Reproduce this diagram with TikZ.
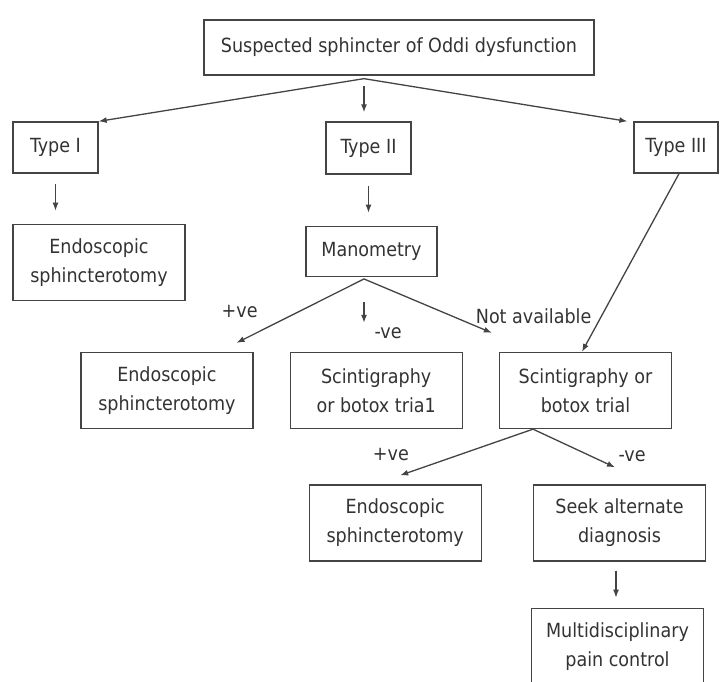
\documentclass[tikz,border=0pt]{standalone}
\usepackage{fontspec}
\setmainfont{DejaVu Sans Condensed}
\usepackage{tikz}
\usetikzlibrary{arrows.meta,positioning,calc}
\definecolor{inkgray}{HTML}{333333}
\definecolor{linegray}{HTML}{444444}
\tikzset{
  stage/.style={rectangle, draw=linegray, line width=1.3pt, fill=white, align=center,
                text=inkgray, font=\fontsize{19.5}{29}\selectfont, inner sep=0pt,
                minimum width=172pt, minimum height=76pt},
  arr/.style={-{Latex[length=8pt,width=6pt]}, line width=1.3pt, draw=linegray},
  lbl/.style={text=inkgray, font=\fontsize{19.5}{29}\selectfont, inner sep=0pt},
}

\begin{document}
\begin{tikzpicture}[x=1pt, y=-1pt, node distance=50pt]
  \useasboundingbox[fill=white] (0,0) rectangle (723,681);
  % first row
  \node[stage, minimum width=390pt, minimum height=55pt] (susp) at (399,47.5)
    {Suspected sphincter of Oddi dysfunction};
  \node[stage, minimum width=85pt, minimum height=51pt] (t1) at (55.5,147.5) {Type I};
  \node[stage, minimum width=85pt, minimum height=52pt] (t2) at (368.5,148) {Type II};
  \node[stage, minimum width=84pt, minimum height=51pt] (t3) at (676,147.5) {Type III};
  % under the types
  \node[stage, below=50pt of t1.south west, anchor=north west] (endo1)
    {Endoscopic\\sphincterotomy};
  \node[stage, minimum width=131pt, minimum height=50pt, below=51pt of t2, xshift=3pt] (mano)
    {Manometry};
  \node[stage] (scint2) at (585.5,390.5) {Scintigraphy or\\botox trial};
  \node[stage, left=36pt of scint2] (scint1) {Scintigraphy\\or botox tria1};
  \node[stage, left=36pt of scint1] (endo2) {Endoscopic\\sphincterotomy};
  \node[stage] (seek) at (619.5,523) {Seek alternate\\diagnosis};
  \node[stage, left=51pt of seek] (endo3) {Endoscopic\\sphincterotomy};
  \node[stage, below=46pt of seek, xshift=-2pt] (multi) {Multidisciplinary\\pain control};

  % connectors
  \coordinate (fan) at ([xshift=-35pt,yshift=-3pt]susp.south);
  \draw[arr] (fan) -- (t1.north east);
  \draw[arr] (fan) -- ([xshift=-6pt]t3.north west);
  \draw[arr, shorten <=7pt, shorten >=9pt] (fan) -- (fan |- t2.north);
  \draw[arr, shorten <=10pt, shorten >=13pt] (t1.south) -- (t1.south |- endo1.north);
  \draw[arr, shorten <=11pt, shorten >=13pt] (t2.south) -- (t2.south |- mano.north);

  \coordinate (mfan) at ([xshift=-7.5pt,yshift=-2pt]mano.south);
  \draw[arr] (mfan) -- ([xshift=-17pt,yshift=9pt]endo2.north east)
    node[lbl, pos=0.83, anchor=south east, yshift=14pt] {+ve};
  \draw[arr, shorten <=23pt, shorten >=29pt] (mfan) -- (mfan |- scint1.north)
    node[lbl, pos=0.66, anchor=north west, xshift=10pt] {-ve};
  \draw[arr] (mfan) -- ([xshift=-7pt,yshift=19pt]scint2.north west)
    node[lbl, pos=0.87, anchor=south west, yshift=1pt] {Not available};
  \draw[arr] ([xshift=3pt]t3.south) -- ([xshift=-3.5pt]scint2.north);

  \coordinate (sfan) at ([xshift=-52.5pt]scint2.south);
  \draw[arr] (sfan) -- ([xshift=5pt,yshift=9pt]endo3.north)
    node[lbl, pos=0.93, anchor=south east, yshift=11pt] {+ve};
  \draw[arr] (sfan) -- ([xshift=-4.5pt,yshift=17pt]seek.north)
    node[lbl, pos=1, anchor=south west, xshift=3pt, yshift=5pt] {-ve};
  \draw[arr, shorten <=9pt, shorten >=10pt] ([xshift=-3.5pt]seek.south)
    -- ([xshift=-3.5pt]seek.south |- multi.north);
\end{tikzpicture}
\end{document}
